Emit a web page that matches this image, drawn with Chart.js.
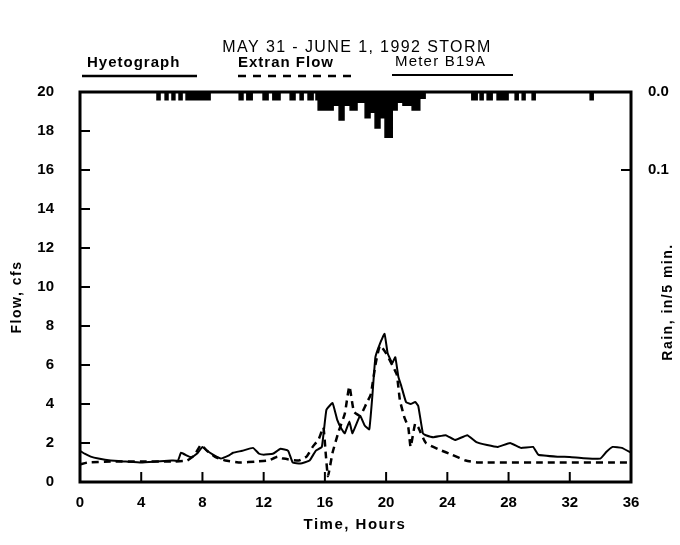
<!DOCTYPE html>
<html>
<head>
<meta charset="utf-8">
<script src="https://cdn.jsdelivr.net/npm/chart.js@4.4.0/dist/chart.umd.min.js"></script>
<style>
  html, body { margin: 0; padding: 0; background: #fff; }
  #c { display: block; }
</style>
</head>
<body>
<canvas id="c" width="680" height="545"></canvas>
<script>
// tick labels
const hourTicks = [0, 4, 8, 12, 16, 20, 24, 28, 32, 36];
const flowTicks = [0, 2, 4, 6, 8, 10, 12, 14, 16, 18, 20];
const rainTicks = [0.0, 0.1];

// Meter B19A (solid) - hours / cfs
const meterHours = [0, 0.3, 0.7, 1.2, 2, 3, 4, 5, 6, 6.4, 6.6, 7, 7.3, 7.7, 8, 8.3, 8.8, 9.2, 9.7, 10,
  10.6, 11.3, 11.7, 12, 12.6, 13.1, 13.6, 13.9, 14.4, 15, 15.4, 15.8, 16.1, 16.5, 16.8, 17.1, 17.3, 17.6, 17.8, 18.3,
  18.6, 18.9, 19.1, 19.3, 19.6, 19.9, 20.1, 20.4, 20.6, 20.8, 21, 21.3, 21.6, 21.9, 22.1, 22.4, 22.6, 23.1, 23.9, 24.5,
  25.3, 25.9, 26.6, 27.3, 28.1, 28.8, 29.6, 29.95, 31.2, 32, 32.9, 34, 34.4, 34.8, 35.4, 36];
const meterFlow = [1.6, 1.45, 1.3, 1.2, 1.1, 1.05, 1.0, 1.05, 1.1, 1.1, 1.5, 1.35, 1.25, 1.5, 1.8, 1.6, 1.35, 1.2, 1.35, 1.5,
  1.6, 1.75, 1.45, 1.4, 1.45, 1.7, 1.6, 1.0, 0.95, 1.1, 1.6, 1.8, 3.7, 4.05, 3.2, 2.7, 2.5, 3.1, 2.5, 3.4,
  2.9, 2.7, 4.4, 6.4, 7.1, 7.6, 6.6, 6.1, 6.4, 5.4, 4.9, 4.1, 4.0, 4.1, 3.9, 2.5, 2.4, 2.3, 2.4, 2.15,
  2.4, 2.05, 1.9, 1.8, 2.0, 1.75, 1.8, 1.4, 1.3, 1.28, 1.22, 1.2, 1.55, 1.8, 1.75, 1.5];

// Extran Flow (dashed) - hours / cfs
const extranHours = [0, 0.5, 2, 4, 6, 7, 7.5, 7.9, 8.3, 8.8, 9.5, 10.5, 11.5, 12.3, 12.9, 13.3, 14.3, 14.8, 15.2, 15.6,
  15.9, 16.05, 16.2, 16.5, 16.9, 17.3, 17.6, 17.9, 18.3, 18.7, 19, 19.3, 19.6, 20, 20.4, 20.7, 20.9, 21.2, 21.45, 21.6,
  21.9, 22.1, 22.6, 23.5, 24.3, 25.2, 26, 30, 36];
const extranFlow = [0.9, 1.0, 1.05, 1.05, 1.05, 1.1, 1.4, 1.9, 1.6, 1.3, 1.1, 1.0, 1.05, 1.1, 1.3, 1.2, 1.1, 1.3, 1.8, 2.2,
  2.8, 1.5, 0.3, 1.5, 2.6, 3.5, 4.9, 3.6, 3.4, 4.0, 4.5, 6.0, 7.0, 6.6, 6.0, 5.5, 4.2, 3.3, 2.8, 1.8,
  3.0, 2.8, 2.0, 1.65, 1.4, 1.1, 1.0, 1.0, 1.0];

// Hyetograph - change points (hours) / depth held until next point (in/5 min)
const rainHours = [0, 5.03, 5.23, 5.56, 5.75, 6.01, 6.2, 6.47, 6.67, 6.93, 8.5, 10.4, 10.65, 10.9, 11.25, 11.96, 12.29, 12.6, 13.07, 13.73,
  14.05, 14.38, 14.58, 14.9, 15.23, 15.42, 15.56, 16.54, 16.93, 17.25, 17.65, 18.1, 18.63, 18.95, 19.28, 19.6, 19.93, 20.4, 20.72, 21.1,
  21.7, 22.2, 22.55, 25.6, 25.95, 26.14, 26.34, 26.6, 26.93, 27.25, 27.97, 28.43, 28.63, 28.89, 29.08, 29.54, 29.74, 33.33, 33.53, 36];
const rainDepth = [0, 0.01, 0, 0.01, 0, 0.01, 0, 0.01, 0, 0.01, 0, 0.01, 0, 0.01, 0, 0.01, 0, 0.01, 0, 0.01,
  0, 0.01, 0, 0.01, 0, 0.01, 0.023, 0.017, 0.036, 0.017, 0.023, 0.013, 0.033, 0.026, 0.046, 0.033, 0.058, 0.023, 0.013, 0.017,
  0.023, 0.008, 0, 0.01, 0, 0.01, 0, 0.01, 0, 0.01, 0, 0.01, 0, 0.01, 0, 0.01, 0, 0.01, 0, 0];

const pts = (xs, ys) => xs.map((x, i) => ({ x: x, y: ys[i] }));

const FONT = "'Liberation Sans', Arial, sans-serif";
Chart.defaults.font.family = FONT;
Chart.defaults.color = '#000';

// spaced text helper
function spaced(ctx, txt, x, y, font, spacing) {
  ctx.font = font;
  ctx.letterSpacing = spacing + 'px';
  ctx.fillText(txt, x, y);
  ctx.letterSpacing = '0px';
}

// frame, inward ticks, title, legend and axis titles
const decor = {
  id: 'decor',
  afterDatasetsDraw(chart) {
    const ctx = chart.ctx;
    const a = chart.chartArea;
    const sx = chart.scales.x, sy = chart.scales.y, sr = chart.scales.y1;
    ctx.save();
    ctx.strokeStyle = '#000';
    ctx.lineWidth = 2;
    hourTicks.slice(1, -1).forEach(h => {
      const px = sx.getPixelForValue(h);
      ctx.beginPath(); ctx.moveTo(px, a.bottom); ctx.lineTo(px, a.bottom - 10); ctx.stroke();
    });
    flowTicks.slice(1, -1).forEach(f => {
      const py = sy.getPixelForValue(f);
      ctx.beginPath(); ctx.moveTo(a.left, py); ctx.lineTo(a.left + 10, py); ctx.stroke();
    });
    rainTicks.slice(1).forEach(r => {
      const py = sr.getPixelForValue(r);
      ctx.beginPath(); ctx.moveTo(a.right, py); ctx.lineTo(a.right - 10, py); ctx.stroke();
    });
    ctx.lineWidth = 3;
    ctx.strokeRect(a.left, a.top, a.right - a.left, a.bottom - a.top);
    ctx.restore();
  },
  afterDraw(chart) {
    const ctx = chart.ctx;
    ctx.save();
    ctx.fillStyle = '#000';
    ctx.textBaseline = 'middle';
    ctx.textAlign = 'center';
    spaced(ctx, 'MAY 31 - JUNE 1, 1992 STORM', 357, 48, '16px ' + FONT, 1.4);

    ctx.textAlign = 'left';
    spaced(ctx, 'Hyetograph', 87, 63, 'bold 15px ' + FONT, 1);
    spaced(ctx, 'Extran Flow', 238, 63, 'bold 15px ' + FONT, 1);
    spaced(ctx, 'Meter B19A', 395, 62, '15px ' + FONT, 1.2);

    ctx.strokeStyle = '#000';
    ctx.lineWidth = 2.5;
    ctx.beginPath(); ctx.moveTo(82, 76); ctx.lineTo(197, 76); ctx.stroke();
    ctx.setLineDash([8, 7]);
    ctx.beginPath(); ctx.moveTo(238, 76); ctx.lineTo(353, 76); ctx.stroke();
    ctx.setLineDash([]);
    ctx.lineWidth = 2;
    ctx.beginPath(); ctx.moveTo(392, 75); ctx.lineTo(513, 75); ctx.stroke();

    // x axis title
    ctx.textAlign = 'center';
    spaced(ctx, 'Time, Hours', 355, 525, 'bold 15px ' + FONT, 1.5);

    // left axis title
    ctx.save();
    ctx.translate(17, 297);
    ctx.rotate(-Math.PI / 2);
    spaced(ctx, 'Flow, cfs', 0, 0, 'bold 14px ' + FONT, 1.5);
    ctx.restore();

    // right axis title
    ctx.save();
    ctx.translate(668, 302);
    ctx.rotate(-Math.PI / 2);
    spaced(ctx, 'Rain, in/5 min.', 0, 0, 'bold 14px ' + FONT, 1.5);
    ctx.restore();
    ctx.restore();
  }
};

new Chart(document.getElementById('c'), {
  type: 'line',
  data: {
    datasets: [
      {
        label: 'Hyetograph',
        data: pts(rainHours, rainDepth),
        yAxisID: 'y1',
        stepped: true,
        borderColor: '#000',
        backgroundColor: '#000',
        borderWidth: 1.5,
        fill: 'origin',
        pointRadius: 0
      },
      {
        label: 'Meter B19A',
        data: pts(meterHours, meterFlow),
        yAxisID: 'y',
        borderColor: '#000',
        borderWidth: 2,
        tension: 0.1,
        fill: false,
        pointRadius: 0
      },
      {
        label: 'Extran Flow',
        data: pts(extranHours, extranFlow),
        yAxisID: 'y',
        borderColor: '#000',
        borderWidth: 2.5,
        borderDash: [7, 5],
        tension: 0.15,
        fill: false,
        pointRadius: 0
      }
    ]
  },
  options: {
    responsive: false,
    animation: false,
    devicePixelRatio: 1,
    layout: { padding: { top: 92, left: 0, right: 0, bottom: 0 } },
    plugins: {
      legend: { display: false },
      title: { display: false },
      tooltip: { enabled: false }
    },
    scales: {
      x: {
        type: 'linear',
        min: 0, max: 36,
        afterBuildTicks: s => { s.ticks = hourTicks.map(v => ({ value: v })); },
        afterFit: s => { s.height = 63; },
        ticks: { font: { size: 15, weight: 'bold' }, padding: 12, maxRotation: 0 },
        grid: { display: false, drawTicks: false },
        border: { display: false }
      },
      y: {
        position: 'left',
        min: 0, max: 20,
        afterBuildTicks: s => { s.ticks = flowTicks.map(v => ({ value: v })); },
        afterFit: s => { s.width = 80; },
        ticks: { font: { size: 15, weight: 'bold' }, padding: 26 },
        grid: { display: false, drawTicks: false },
        border: { display: false }
      },
      y1: {
        position: 'right',
        reverse: true,
        min: 0, max: 0.5,
        afterBuildTicks: s => { s.ticks = rainTicks.map(v => ({ value: v })); },
        afterFit: s => { s.width = 49; },
        ticks: { font: { size: 15, weight: 'bold' }, padding: 17, callback: v => Number(v).toFixed(1) },
        grid: { display: false, drawTicks: false },
        border: { display: false }
      }
    }
  },
  plugins: [decor]
});
</script>
</body>
</html>
